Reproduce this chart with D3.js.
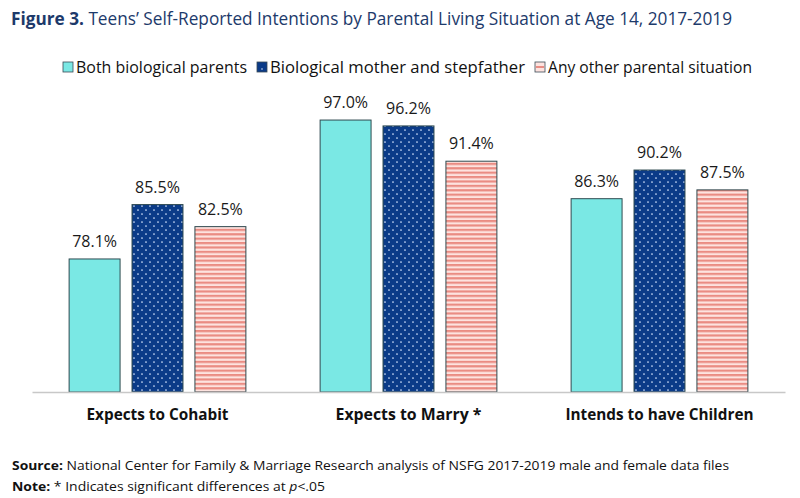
<!DOCTYPE html>
<html>
<head>
<meta charset="utf-8">
<script src="https://cdn.jsdelivr.net/npm/d3@7"></script>
<style>
  body { margin: 0; background: #fff; }
  text { font-family: "Open Sans", sans-serif; }
</style>
</head>
<body>
<div id="chart"></div>
<script>
// Data
var categories = ["Expects to Cohabit", "Expects to Marry *", "Intends to have Children"];
var seriesNames = ["Both biological parents", "Biological mother and stepfather", "Any other parental situation"];
var bothParents = [78.1, 97.0, 86.3];
var motherStepfather = [85.5, 96.2, 90.2];
var otherSituation = [82.5, 91.4, 87.5];
var seriesValues = [bothParents, motherStepfather, otherSituation];

var W = 800, H = 498;

var svg = d3.select("#chart").append("svg")
  .attr("width", W)
  .attr("height", H);

// Fills / patterns
var defs = svg.append("defs");

var dots = defs.append("pattern")
  .attr("id", "dots")
  .attr("patternUnits", "userSpaceOnUse")
  .attr("width", 8).attr("height", 8);
dots.append("rect").attr("width", 8).attr("height", 8).attr("fill", "#0b3b88");
dots.append("circle").attr("cx", 2).attr("cy", 2).attr("r", 0.85).attr("fill", "#d8e6ff");
dots.append("circle").attr("cx", 6).attr("cy", 6).attr("r", 0.85).attr("fill", "#d8e6ff");

var stripes = defs.append("pattern")
  .attr("id", "stripes")
  .attr("patternUnits", "userSpaceOnUse")
  .attr("width", 8).attr("height", 4.4);
stripes.append("rect").attr("width", 8).attr("height", 4.4).attr("fill", "#fde3df");
stripes.append("rect").attr("y", 0).attr("width", 8).attr("height", 2.2).attr("fill", "#ea8c83");

var fills = ["#7ae8e4", "url(#dots)", "url(#stripes)"];
var swatchFills = ["#7ae8e4", "#0b3b88", "#fde3df"];

// Title
var title = svg.append("text")
  .attr("x", 11).attr("y", 25)
  .attr("font-size", 18)
  .attr("fill", "#1d3a6b")
  .attr("textLength", 721)
  .attr("lengthAdjust", "spacingAndGlyphs");
title.append("tspan").attr("font-weight", "bold").text("Figure 3.");
title.append("tspan").text(" Teens\u2019 Self-Reported Intentions by Parental Living Situation at Age 14, 2017-2019");

// Legend
var legendX = [63, 257, 535];
var legendW = [171, 255, 204];
var legend = svg.append("g").selectAll("g")
  .data(seriesNames)
  .enter().append("g")
  .attr("transform", function(d, i) { return "translate(" + legendX[i] + ",62)"; });

legend.append("rect")
  .attr("width", 10).attr("height", 10)
  .attr("fill", function(d, i) { return swatchFills[i]; })
  .attr("stroke", "#3a4a55")
  .attr("stroke-width", 0.8);
legend.filter(function(d, i) { return i === 2; }).append("line")
  .attr("x1", 1).attr("x2", 9).attr("y1", 5).attr("y2", 5)
  .attr("stroke", "#e0685e").attr("stroke-width", 1.4);
legend.filter(function(d, i) { return i === 1; }).append("circle")
  .attr("cx", 5).attr("cy", 7).attr("r", 0.8).attr("fill", "#d8e6ff");

legend.append("text")
  .attr("x", 13).attr("y", 11)
  .attr("font-size", 15.5)
  .attr("fill", "#111")
  .attr("textLength", function(d, i) { return legendW[i]; })
  .attr("lengthAdjust", "spacingAndGlyphs")
  .text(function(d) { return d; });

// Scales
var margin = { left: 32, right: 15, top: 98, bottom: 106 };
var x0 = d3.scaleBand()
  .domain(categories)
  .range([margin.left, W - margin.right]);

var x1 = d3.scaleBand()
  .domain([0, 1, 2])
  .range([0, x0.bandwidth()])
  .paddingInner(0.19)
  .paddingOuter(0.59);

var y = d3.scaleLinear()
  .domain([60, 100])
  .range([H - margin.bottom, margin.top]);

// Bars
var groups = svg.append("g").selectAll("g")
  .data(categories)
  .enter().append("g")
  .attr("transform", function(d) { return "translate(" + x0(d) + ",0)"; });

function rows(d, ci) {
  return seriesValues.map(function(s, si) { return { s: si, v: s[ci] }; });
}

groups.selectAll("rect")
  .data(rows)
  .enter().append("rect")
  .attr("x", function(d) { return x1(d.s); })
  .attr("y", function(d) { return y(d.v); })
  .attr("width", x1.bandwidth())
  .attr("height", function(d) { return y(60) - y(d.v); })
  .attr("fill", function(d) { return fills[d.s]; })
  .attr("stroke", "#2f4a50")
  .attr("stroke-width", 1);

groups.selectAll("text.val")
  .data(rows)
  .enter().append("text")
  .attr("class", "val")
  .attr("x", function(d) { return x1(d.s) + x1.bandwidth() / 2; })
  .attr("y", function(d) { return y(d.v) - 12; })
  .attr("text-anchor", "middle")
  .attr("font-size", 16)
  .attr("fill", "#1a1a1a")
  .text(function(d) { return d.v.toFixed(1) + "%"; });

// Axis
var xAxis = d3.axisBottom(x0).tickSize(0).tickPadding(17);
var axisG = svg.append("g")
  .attr("transform", "translate(0," + y(60) + ")")
  .call(xAxis);
axisG.select(".domain").attr("stroke", "#c8c8c8").attr("stroke-width", 1.5);
axisG.selectAll("text")
  .attr("font-family", "Open Sans, sans-serif")
  .attr("font-size", 16)
  .attr("font-weight", "bold")
  .attr("fill", "#111")
  .attr("textLength", function(d) { return d === "Intends to have Children" ? 188 : d === "Expects to Marry *" ? 146 : 142; })
  .attr("lengthAdjust", "spacingAndGlyphs");

// Source notes
var src = svg.append("text").attr("x", 12).attr("y", 470).attr("font-size", 13).attr("fill", "#111")
  .attr("textLength", 717).attr("lengthAdjust", "spacingAndGlyphs");
src.append("tspan").attr("font-weight", "bold").text("Source:");
src.append("tspan").text(" National Center for Family & Marriage Research analysis of NSFG 2017-2019 male and female data files");

var note = svg.append("text").attr("x", 12).attr("y", 491).attr("font-size", 13).attr("fill", "#111")
  .attr("textLength", 313).attr("lengthAdjust", "spacingAndGlyphs");
note.append("tspan").attr("font-weight", "bold").text("Note:");
note.append("tspan").text(" * Indicates significant differences at ");
note.append("tspan").attr("font-style", "italic").text("p");
note.append("tspan").text("<.05");
</script>
</body>
</html>
